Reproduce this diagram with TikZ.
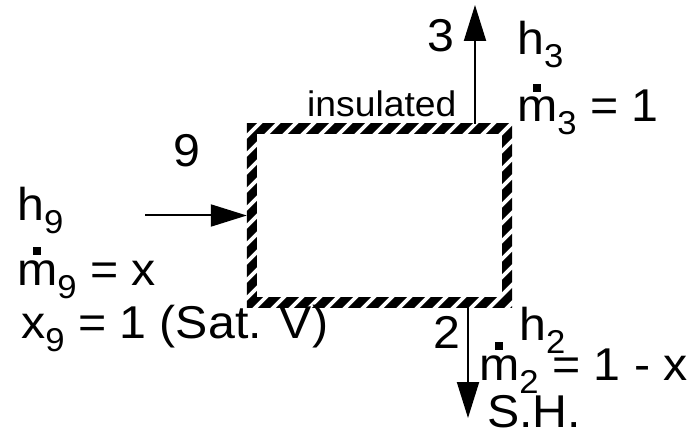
\documentclass[tikz,border=0pt]{standalone}
\usepackage{fontspec}
\setmainfont{Liberation Sans}[FakeStretch=1.05]
\usetikzlibrary{arrows.meta}
\newcommand\lsub[1]{\raisebox{-13pt}{\fontsize{33}{33}\selectfont #1}}
\newcommand\mdot{\ooalign{m\cr\hidewidth\raisebox{30pt}{\rule{8pt}{8pt}}\hidewidth\cr}}
\begin{document}
\begin{tikzpicture}[x=1pt,y=-1pt,
  lbl/.style={anchor=base west,inner sep=0pt,font=\fontsize{46}{52}\selectfont},
  small/.style={anchor=base west,inner sep=0pt,font=\fontsize{35.5}{40}\selectfont},
  flow/.style={line width=2pt,-{Triangle[length=36pt,width=22pt]}},
  hatch/.style={line width=8.5pt}]
\useasboundingbox (0,0) rectangle (692,435);
\node[minimum width=265pt,minimum height=183pt,inner sep=0pt] (box) at (379.5,215.5) {};
\begin{scope}
  \clip (box.south west) rectangle (box.north east);
  \foreach \c in {-230,-212,...,530}
    \draw[hatch] (\c,460) -- ++(460,-460);
\end{scope}
\fill[white] ([shift={(10pt,10pt)}]box.south west) rectangle ([shift={(-10pt,-10pt)}]box.north east);
% flow 3 (out, top)
\coordinate (t3) at (475,5);
\draw[flow] (box.north -| t3) -- (t3);
% flow 9 (in, left)
\coordinate (s9) at (145,215.5);
\draw[flow] (s9) -- (box.west);
% flow 2 (out, bottom)
\coordinate (t2) at (468,418);
\draw[flow] (box.south -| t2) -- (t2);
% labels
\node[lbl] (n3) at (427,52) {3};
\node[lbl] (h3) at (517,55) {h\lsub{3}};
\node[lbl] (m3) at (517,122) {\mdot\lsub{3} = 1};
\node[small] (ins) at (307,117) {insulated};
\node[lbl] (n9) at (173,167) {9};
\node[lbl] (h9) at (17,221) {h\lsub{9}};
\node[lbl] (m9) at (17,285) {\mdot\lsub{9} = x};
\node[lbl] (x9) at (21,338) {x\lsub{9} = 1 (Sat. V)};
\node[lbl] (n2) at (433,348) {2};
\node[lbl] (h2) at (519,340) {h\lsub{2}};
\node[lbl] (m2) at (479,380) {\mdot\lsub{2} = 1 - x};
\node[lbl] (sh) at (487,427) {S.H.};
\end{tikzpicture}
\end{document}
